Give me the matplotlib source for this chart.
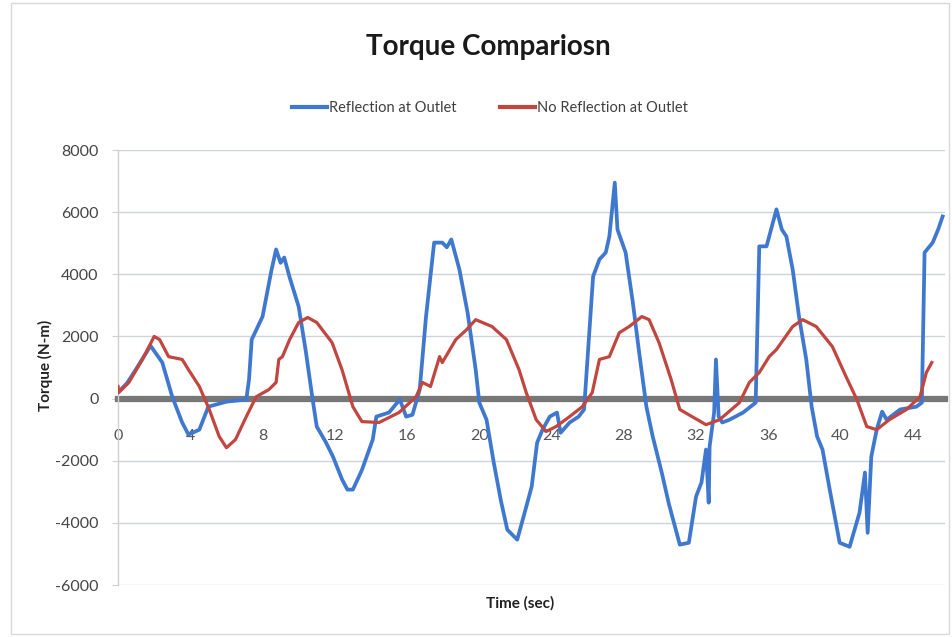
import matplotlib
matplotlib.use("Agg")
import matplotlib.pyplot as plt
from matplotlib.lines import Line2D
from matplotlib.patches import Rectangle

# --- data ---
t_refl = [0, 0.5, 1.0, 1.8, 2.45, 3.0, 3.55, 3.9, 4.5, 5.0, 6.0, 7.1, 7.25, 7.4, 8.0, 8.5,
          8.75, 9.0, 9.2, 9.5, 10.0, 10.4, 10.75, 11.0, 11.5, 11.9, 12.4, 12.7, 13.0, 13.5,
          14.1, 14.3, 15.0, 15.6, 15.95, 16.3, 16.7, 17.05, 17.5, 17.95, 18.2, 18.45, 18.9,
          19.35, 19.8, 20.0, 20.4, 20.8, 21.2, 21.55, 22.1, 22.6, 22.9, 23.2, 23.5, 23.9,
          24.3, 24.5, 25.0, 25.5, 25.8, 26.1, 26.3, 26.65, 27.0, 27.2, 27.5, 27.65, 28.1,
          28.5, 28.85, 29.25, 29.6, 30.1, 30.5, 31.1, 31.6, 32.0, 32.3, 32.55, 32.7, 32.75,
          33.0, 33.1, 33.25, 33.45, 33.85, 34.6, 35.3, 35.5, 35.9, 36.45, 36.75, 37.0,
          37.35, 37.7, 38.1, 38.4, 38.7, 39.0, 39.4, 39.95, 40.5, 41.05, 41.35, 41.5, 41.7,
          42.0, 42.3, 42.55, 43.3, 44.2, 44.5, 44.65, 45.1, 45.4, 45.65]
v_refl = [200, 500, 950, 1700, 1160, 60, -770, -1160, -1000, -260, -100, -30, 610, 1900,
          2640, 4150, 4800, 4370, 4540, 3900, 2960, 1500, 60, -900, -1400, -1870, -2600,
          -2930, -2930, -2300, -1320, -580, -450, -30, -580, -520, 290, 2640, 5020, 5020,
          4870, 5120, 4150, 2770, 930, -130, -680, -2060, -3300, -4220, -4540, -3480, -2830,
          -1420, -1000, -580, -450, -1100, -770, -580, -350, 2220, 3930, 4480, 4700, 5220,
          6950, 5440, 4700, 3090, 1480, -260, -1220, -2380, -3400, -4700, -4640, -3150,
          -2700, -1640, -3350, -1540, -450, 1260, -580, -770, -680, -450, -130, 4900, 4900,
          6090, 5440, 5220, 4150, 2640, 1260, -260, -1220, -1640, -2930, -4640, -4770,
          -3670, -2380, -4320, -1870, -1000, -420, -680, -350, -260, -130, 4700, 5020, 5440,
          5860]

t_norefl = [0, 0.05, 0.6, 1.35, 2.0, 2.3, 2.8, 3.55, 3.9, 4.5, 5.05, 5.6, 6.0, 6.5, 7.1,
            7.65, 8.35, 8.75, 8.9, 9.1, 9.5, 10.0, 10.5, 11.0, 11.85, 12.4, 13.0, 13.5,
            14.45, 15.55, 16.5, 16.85, 17.3, 17.8, 17.95, 18.7, 19.3, 19.8, 20.7, 21.5,
            22.2, 22.6, 23.15, 23.7, 24.25, 25.0, 25.7, 26.25, 26.65, 27.2, 27.75, 28.3,
            29.0, 29.4, 29.95, 30.6, 31.1, 31.6, 32.55, 33.3, 34.4, 34.95, 35.5, 36.05,
            36.45, 37.35, 37.9, 38.65, 39.55, 40.3, 40.9, 41.45, 42.0, 42.7, 43.65, 44.4,
            44.75, 45.05]
v_norefl = [390, 200, 520, 1260, 2000, 1900, 1350, 1260, 930, 390, -350, -1220, -1580,
            -1320, -580, 60, 290, 520, 1260, 1350, 1900, 2450, 2610, 2450, 1800, 930, -260,
            -740, -770, -450, 60, 520, 390, 1350, 1160, 1900, 2220, 2540, 2320, 1900, 930,
            190, -680, -1060, -900, -580, -260, 190, 1260, 1350, 2120, 2320, 2640, 2540,
            1800, 650, -350, -520, -840, -680, -130, 520, 840, 1350, 1580, 2320, 2540, 2320,
            1670, 710, -30, -900, -1000, -680, -350, 60, 840, 1160]

x_ticks = [0, 4, 8, 12, 16, 20, 24, 28, 32, 36, 40, 44]
y_ticks = [-6000, -4000, -2000, 0, 2000, 4000, 6000, 8000]
title = "Torque Compariosn"
series_names = ["Reflection at Outlet", "No Reflection at Outlet"]

blue = "#3f78cf"
red = "#c0463f"

plt.rcParams['font.family'] = ['Lato', 'DejaVu Sans']

fig = plt.figure(figsize=(9.52, 6.37), dpi=100)
fig.patch.set_facecolor("white")
fig.add_artist(Rectangle((0.012, 0.005), 0.985, 0.99, transform=fig.transFigure,
                         fill=False, edgecolor="#d9d9d9", linewidth=1.0))

ax = fig.add_axes([0.124, 0.0816, 0.869, 0.6829])
ax.set_xlim(0, 45.8)
ax.set_ylim(-6000, 8000)

ax.set_yticks(y_ticks)
ax.set_yticklabels([f"{v}" for v in y_ticks])
ax.set_xticks(x_ticks)
ax.set_xticklabels([str(v) for v in x_ticks])

ax.grid(axis="y", color="#cfd3de", linewidth=1.0)
ax.set_axisbelow(True)

for s in ["top", "right"]:
    ax.spines[s].set_visible(False)
ax.spines["left"].set_color("#d0d0d0")
ax.spines["left"].set_linewidth(1.0)
ax.spines["bottom"].set_position(("data", 0))
ax.spines["bottom"].set_color("#777777")
ax.spines["bottom"].set_linewidth(4.5)
ax.spines["bottom"].set_zorder(1)

ax.tick_params(axis="x", length=0, pad=22, labelsize=11.5, colors="#555555")
ax.tick_params(axis="y", length=4, pad=10, labelsize=11.5, colors="#444444",
               color="#d0d0d0")

ax.plot(t_refl, v_refl, color=blue, linewidth=2.7, zorder=3, label=series_names[0])
ax.plot(t_norefl, v_norefl, color=red, linewidth=2.3, zorder=4, label=series_names[1])

ax.text(-0.088, 0.506, "Torque (N-m)", transform=ax.transAxes, rotation=90,
        ha="center", va="center", fontsize=11, fontweight="bold", color="#222222")
fig.text(520 / 952, 1 - 603 / 637, "Time (sec)", ha="center", va="center",
         fontsize=11, fontweight="bold", color="#222222")
fig.text(488 / 952, 1 - 47 / 637, title, ha="center", va="center",
         fontsize=20, fontweight="bold", color="#1a1a1a")

handles = [Line2D([0], [0], color=blue, linewidth=3),
           Line2D([0], [0], color=red, linewidth=3)]
fig.legend(handles, series_names, loc="center", bbox_to_anchor=(490 / 952, 1 - 108 / 637),
           ncol=2, frameon=False, fontsize=10.5, handlelength=2.4, handletextpad=0.1,
           columnspacing=3.0, labelcolor="#404040")

fig.savefig("out.png", dpi=100, facecolor="white")
